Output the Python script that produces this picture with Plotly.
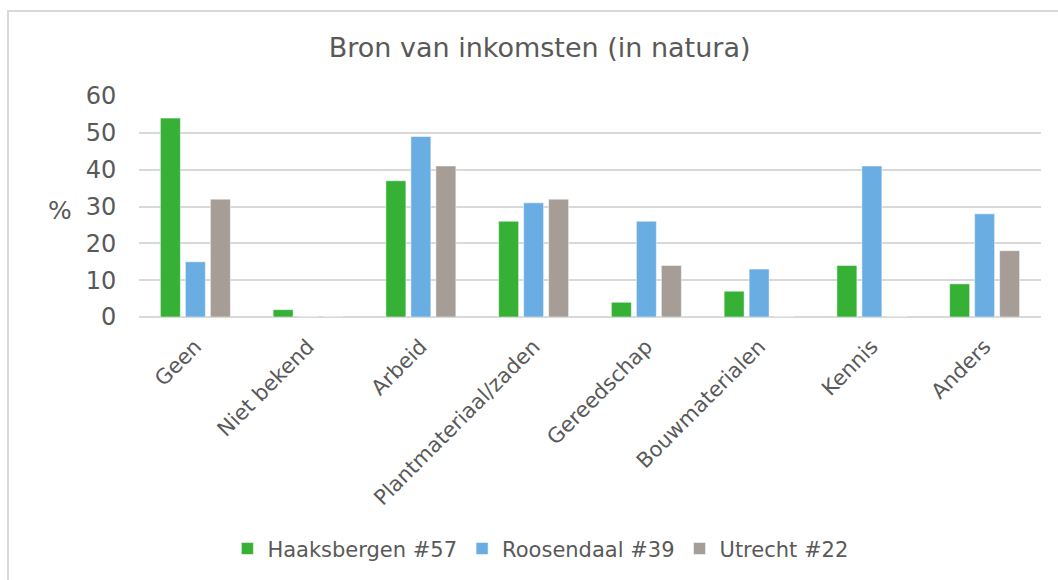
import plotly.graph_objects as go

categories = ['Geen', 'Niet bekend', 'Arbeid', 'Plantmateriaal/zaden',
              'Gereedschap', 'Bouwmaterialen', 'Kennis', 'Anders']

haaksbergen = [54, 2, 37, 26, 4, 7, 14, 9]
roosendaal = [15, 0, 49, 31, 26, 13, 41, 28]
utrecht = [32, 0, 41, 32, 14, 0, 0, 18]

series = [
    ('Haaksbergen #57', haaksbergen, '#36b136'),
    ('Roosendaal #39', roosendaal, '#6aade3'),
    ('Utrecht #22', utrecht, '#a59d96'),
]

font = 'DejaVu Sans, Verdana, sans-serif'
grey = '#595959'

fig = go.Figure()
for name, vals, col in series:
    fig.add_trace(go.Bar(x=categories, y=vals, name=name,
                         marker=dict(color=col, line=dict(color='white', width=0.5))))

ml, mt, mb, mr = 139, 96, 262, 17
W, H = 1058, 580

fig.update_layout(
    width=W, height=H,
    margin=dict(l=ml, r=mr, t=mt, b=mb),
    paper_bgcolor='white', plot_bgcolor='white',
    font=dict(family=font, color=grey),
    barmode='group', bargap=0.335, bargroupgap=0.2,
    title=dict(text='Bron van inkomsten (in natura)', x=0.51, xanchor='center',
               y=1 - 48 / H, yanchor='middle',
               font=dict(size=27, color=grey, family=font)),
    legend=dict(orientation='h', x=0.445, xanchor='center', y=-1.04, yanchor='middle',
                font=dict(size=21, color=grey), itemwidth=30, traceorder='normal'),
    showlegend=True,
)
fig.update_xaxes(tickangle=-45, tickfont=dict(size=21, color=grey),
                 showline=False, ticks='outside', ticklen=8, tickcolor='rgba(0,0,0,0)',
                 showgrid=False)
fig.update_yaxes(range=[0, 60], dtick=10, tickfont=dict(size=24, color=grey),
                 showgrid=True, gridcolor='#d9d9d9', gridwidth=1.5,
                 zeroline=True, zerolinecolor='#d9d9d9', zerolinewidth=1.5,
                 ticks='outside', ticklen=17, tickcolor='rgba(0,0,0,0)')

fig.add_annotation(text='%', xref='paper', yref='y', x=0, y=29, xshift=-(ml - 60),
                   showarrow=False, xanchor='center', font=dict(size=25, color=grey))

# chart frame
fig.add_shape(type='rect', xref='paper', yref='paper', xsizemode='pixel', ysizemode='pixel',
              xanchor=0, yanchor=1, x0=8 - ml, x1=W - ml + 20, y0=mt - 11, y1=-(H + 20),
              line=dict(color='#d9d9d9', width=2), fillcolor='rgba(0,0,0,0)', layer='below')

fig.write_html('out.html', config={'displayModeBar': False},
               post_script="document.body.style.margin='0';")
